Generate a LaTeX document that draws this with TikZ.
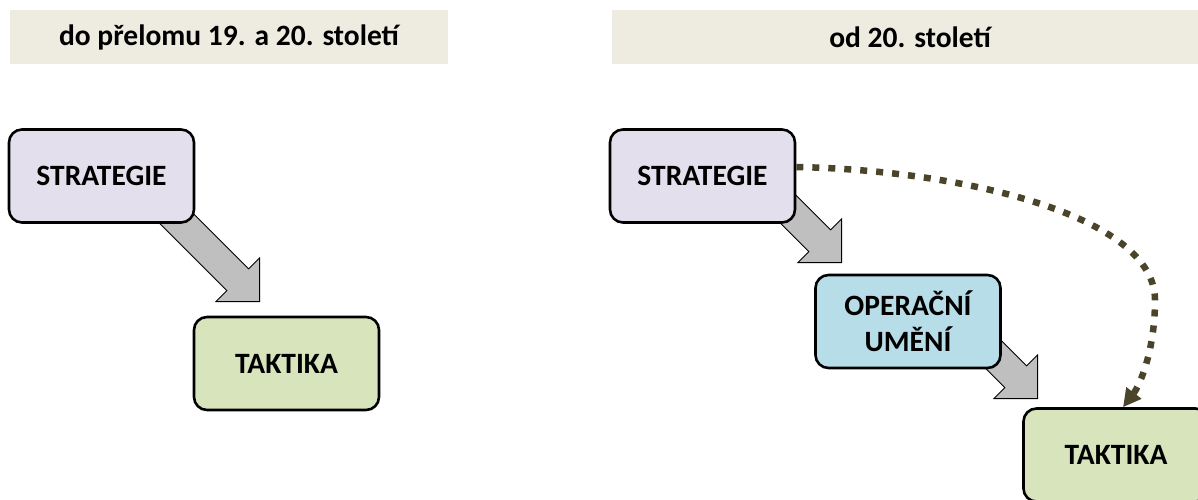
\documentclass[tikz,border=0pt]{standalone}
\usepackage{fontspec}
\setmainfont{Carlito}
\usetikzlibrary{shapes.arrows,arrows.meta}

\definecolor{hdrfill}{HTML}{EEECE1}
\definecolor{stratfill}{HTML}{E4DFEC}
\definecolor{operfill}{HTML}{B7DEE8}
\definecolor{taktfill}{HTML}{D7E4BC}
\definecolor{arrfill}{HTML}{BFBFBF}
\definecolor{dotcol}{HTML}{4A452A}

\begin{document}
\begin{tikzpicture}[x=1pt, y=-1pt,
    every node/.style={font=\fontsize{29.5}{36}\selectfont\bfseries},
    hdr/.style={fill=hdrfill, minimum height=54pt, inner sep=0pt},
    stage/.style={draw, line width=2.6pt, rounded corners=13pt, minimum width=185pt,
        minimum height=93pt, align=center, inner sep=0pt},
    blockarr/.style={single arrow, draw=black, line width=0.8pt, fill=arrfill,
        minimum height=141pt, inner xsep=0pt, inner ysep=15pt,
        single arrow head extend=15.5pt, sloped, pos=1, anchor=tip},
    dots/.style={draw=dotcol, line width=6.5pt, dash pattern=on 7pt off 9pt,
        -{Triangle[length=18pt,width=18pt]}}]
    \clip (0,0) rectangle (1198,499);

    \node[hdr, minimum width=438pt] (hdA) at (229,37) {do přelomu 19. a 20. století};
    \node[hdr, minimum width=596pt] (hdB) at (910,37) {od 20. století};

    \coordinate (a1) at (260,302);
    \coordinate (a2) at (842,263);
    \coordinate (a3) at (1038,399);
    \path ([shift={(-100,-100)}]a1) -- node[blockarr] {} (a1);
    \path ([shift={(-100,-100)}]a2) -- node[blockarr] {} (a2);
    \path ([shift={(-100,-100)}]a3) -- node[blockarr] {} (a3);

    \node[stage, fill=stratfill] (sA) at (101.5,176) {STRATEGIE};
    \node[stage, fill=taktfill]  (tA) at (286.5,363.5) {TAKTIKA};

    \node[stage, fill=stratfill] (sB) at (702.5,176) {STRATEGIE};
    \node[stage, fill=operfill]  (oB) at (908,321.5) {OPERAČNÍ\\UMĚNÍ};
    \node[stage, fill=taktfill]  (tB) at (1116,455) {TAKTIKA};

    \draw[dots] ([yshift=9pt]sB.east) .. controls (960,170) and (1155,215) .. (1155,300)
        .. controls (1155,350) and (1140,385) .. ([xshift=7pt]tB.north);
\end{tikzpicture}
\end{document}
